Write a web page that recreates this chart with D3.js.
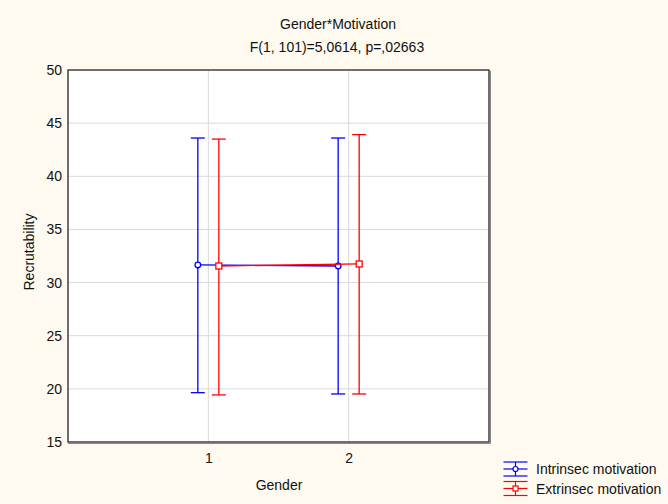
<!DOCTYPE html>
<html><head><meta charset="utf-8">
<script src="https://cdn.jsdelivr.net/npm/d3@7"></script>
<style>body{margin:0;background:#fefaef;} svg{display:block;font-family:"Liberation Sans",Arial,sans-serif;}</style>
</head><body><svg id="c" width="668" height="504"></svg>
<script>
const genders = [1, 2];
const seriesNames = ["Intrinsec motivation", "Extrinsec motivation"];
const intrinsicMean = [31.66, 31.56];
const intrinsicLow = [19.64, 19.52];
const intrinsicHigh = [43.6, 43.6];
const extrinsicMean = [31.56, 31.75];
const extrinsicLow = [19.43, 19.52];
const extrinsicHigh = [43.5, 43.92];
const yTicks = [15, 20, 25, 30, 35, 40, 45, 50];
const title = "Gender*Motivation";
const subtitle = "F(1, 101)=5,0614, p=,02663";

const FS = 14;
const svg = d3.select("#c");
svg.append("rect").attr("width",668).attr("height",504).attr("fill","#fefaef");
const x = d3.scaleLinear().domain([0,3]).range([68,489]);
const y = d3.scaleLinear().domain([15,50]).range([442,70]);

svg.append("rect").attr("x",x(0)).attr("y",y(50)).attr("width",x(3)-x(0)).attr("height",y(15)-y(50)).attr("fill","#fff");
// grid
svg.selectAll(".hg").data(yTicks.slice(1,-1)).enter().append("line")
  .attr("x1",x(0)).attr("x2",x(3)).attr("y1",d=>y(d)).attr("y2",d=>y(d))
  .attr("stroke","#d9d9d9").attr("stroke-width",1);
svg.selectAll(".vg").data(genders).enter().append("line")
  .attr("y1",y(15)).attr("y2",y(50)).attr("x1",d=>x(d)).attr("x2",d=>x(d))
  .attr("stroke","#d9d9d9").attr("stroke-width",1);

// frame with shadow
svg.append("path").attr("d",`M${x(3)+1.5},${y(50)+1} V${y(15)+1.5} H${x(0)}`).attr("fill","none").attr("stroke","#888").attr("stroke-width",1);
svg.append("rect").attr("x",x(0)).attr("y",y(50)).attr("width",x(3)-x(0)).attr("height",y(15)-y(50))
  .attr("fill","none").attr("stroke","#333").attr("stroke-width",1.4);

// axes labels
const yAxis = d3.axisLeft(y).tickValues(yTicks).tickSize(0).tickPadding(6);
const ga = svg.append("g").attr("transform",`translate(${x(0)},0)`).call(yAxis);
ga.select(".domain").remove();
ga.selectAll("text").attr("font-size",FS).attr("fill","#111").attr("font-family","Liberation Sans, Arial, sans-serif");
const xAxis = d3.axisBottom(x).tickValues(genders).tickSize(0).tickPadding(11).tickFormat(d3.format("d"));
const gx = svg.append("g").attr("transform",`translate(0,${y(15)})`).call(xAxis);
gx.select(".domain").remove();
gx.selectAll("text").attr("font-size",FS).attr("fill","#111").attr("font-family","Liberation Sans, Arial, sans-serif");

svg.append("text").attr("x",338).attr("y",29).attr("text-anchor","middle").attr("font-size",FS).attr("fill","#111").text(title);
svg.append("text").attr("x",337).attr("y",52).attr("text-anchor","middle").attr("font-size",FS).attr("fill","#111").text(subtitle);
svg.append("text").attr("x",279).attr("y",490).attr("text-anchor","middle").attr("font-size",FS).attr("fill","#111").text("Gender");
svg.append("text").attr("transform",`translate(34,252) rotate(-90)`).attr("text-anchor","middle").attr("font-size",FS).attr("fill","#111").text("Recrutability");

const series = [
  {name:seriesNames[0], mean:intrinsicMean, lo:intrinsicLow, hi:intrinsicHigh, color:"#0000ff", off:-10.5, shape:"circle"},
  {name:seriesNames[1], mean:extrinsicMean, lo:extrinsicLow, hi:extrinsicHigh, color:"#ff0000", off:10.5, shape:"square"}
];
series.forEach(s=>{
  const g = svg.append("g");
  const pts = genders.map((gd,i)=>({px:x(gd)+s.off, m:s.mean[i], lo:s.lo[i], hi:s.hi[i]}));
  pts.forEach(p=>{
    g.append("line").attr("x1",p.px).attr("x2",p.px).attr("y1",y(p.lo)).attr("y2",y(p.hi)).attr("stroke",s.color).attr("stroke-width",1.3);
    [p.lo,p.hi].forEach(v=>g.append("line").attr("x1",p.px-7).attr("x2",p.px+7).attr("y1",y(v)).attr("y2",y(v)).attr("stroke",s.color).attr("stroke-width",1.3));
  });
  g.append("path").attr("d",d3.line().x(p=>p.px).y(p=>y(p.m))(pts)).attr("fill","none").attr("stroke",s.color).attr("stroke-width",1.3);
  pts.forEach(p=>{
    if(s.shape==="circle") g.append("circle").attr("cx",p.px).attr("cy",y(p.m)).attr("r",2.8).attr("fill","#fff").attr("stroke",s.color).attr("stroke-width",1.3);
    else g.append("rect").attr("x",p.px-3).attr("y",y(p.m)-3).attr("width",6).attr("height",6).attr("fill","#fff").attr("stroke",s.color).attr("stroke-width",1.3);
  });
});

// legend
series.forEach((s,i)=>{
  const cy = 469 + i*19.5, cx = 515.5;
  const g = svg.append("g");
  [-7,0,7].forEach(dy=>g.append("line").attr("x1",cx-12).attr("x2",cx+12).attr("y1",cy+dy).attr("y2",cy+dy).attr("stroke",s.color).attr("stroke-width",1.2));
  g.append("line").attr("x1",cx).attr("x2",cx).attr("y1",cy-7).attr("y2",cy+7).attr("stroke",s.color).attr("stroke-width",1.2);
  if(s.shape==="circle") g.append("circle").attr("cx",cx).attr("cy",cy).attr("r",2.5).attr("fill","#fff").attr("stroke",s.color).attr("stroke-width",1.2);
  else g.append("rect").attr("x",cx-2.5).attr("y",cy-2.5).attr("width",5).attr("height",5).attr("fill","#fff").attr("stroke",s.color).attr("stroke-width",1.2);
  svg.append("text").attr("x",536).attr("y",cy+5).attr("font-size",FS).attr("fill","#111").text(s.name);
});
</script></body></html>
